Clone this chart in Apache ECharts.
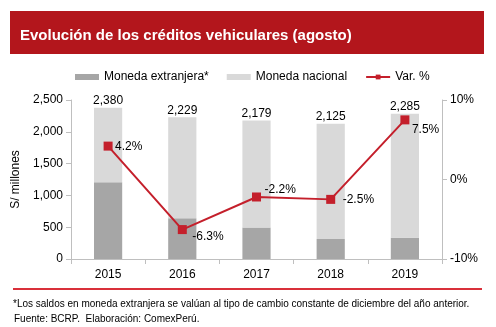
<!DOCTYPE html>
<html><head><meta charset="utf-8">
<script src="https://cdn.jsdelivr.net/npm/echarts@6/dist/echarts.min.js"></script>
<style>html,body{margin:0;padding:0;background:#fff}#c{width:496px;height:327px}</style>
</head><body><div id="c"></div>
<script>
const years = ['2015','2016','2017','2018','2019'];
const totals = [2380, 2229, 2179, 2125, 2285];
const foreign = [1205, 640, 495, 315, 335];
const national = totals.map((t,i)=>t-foreign[i]);
const varPct = [4.2, -6.3, -2.2, -2.5, 7.5];

const FONT = '"Liberation Sans", Arial, sans-serif';
const RED = '#c41f2b';
const labelPos = [[11.5,-0.5],[14.5,5.5],[12.5,-8.5],[16.5,-1.5],[11.5,8.5]];

const chart = echarts.init(document.getElementById('c'), null, {renderer:'canvas'});
chart.setOption({
  animation:false,
  textStyle:{fontFamily:FONT},
  graphic:[
    {type:'rect', shape:{x:10,y:11,width:474,height:43}, style:{fill:'#b3161c'}},
    {type:'text', left:20, top:28, style:{text:'Evolución de los créditos vehiculares (agosto)', fill:'#fff', font:'bold 15px '+FONT}},
    {type:'rect', shape:{x:13,y:288,width:469,height:2}, style:{fill:'#d9303a'}},
    {type:'text', left:13, top:299, style:{text:'*Los saldos en moneda extranjera se valúan al tipo de cambio constante de diciembre del año anterior.', fill:'#000', font:'10px '+FONT}},
    {type:'text', left:14, top:314, style:{text:'Fuente: BCRP.  Elaboración: ComexPerú.', fill:'#000', font:'10px '+FONT}}
  ],
  legend:{
    top:66, left:70, itemGap:18, itemWidth:24, itemHeight:6,
    textStyle:{fontSize:12, color:'#000', fontFamily:FONT},
    data:[
      {name:'Moneda extranjera*', icon:'rect'},
      {name:'Moneda nacional', icon:'rect'},
      {name:'Var. %'}
    ]
  },
  grid:{left:71, right:54, top:100, bottom:68},
  xAxis:{
    type:'category', data:years,
    axisLine:{lineStyle:{color:'#bfbfbf', width:1}},
    axisTick:{show:true, alignWithLabel:false, lineStyle:{color:'#bfbfbf'}},
    axisLabel:{color:'#000', fontSize:12, margin:10, fontFamily:FONT}
  },
  yAxis:[
    {type:'value', min:0, max:2500, interval:500,
     name:'S/ millones', nameLocation:'middle', nameGap:45, nameRotate:90,
     nameTextStyle:{fontSize:12, color:'#000', fontFamily:FONT},
     axisLine:{show:true, lineStyle:{color:'#bfbfbf'}},
     axisTick:{show:true, lineStyle:{color:'#bfbfbf'}},
     splitLine:{show:false},
     axisLabel:{color:'#000', fontSize:12, fontFamily:FONT, formatter:v=>v.toLocaleString('en-US')}
    },
    {type:'value', min:-10, max:10, interval:10, position:'right',
     axisLine:{show:true, lineStyle:{color:'#bfbfbf'}},
     axisTick:{show:true, lineStyle:{color:'#bfbfbf'}},
     splitLine:{show:false},
     axisLabel:{color:'#000', fontSize:12, fontFamily:FONT, formatter:v=>v+'%'}
    }
  ],
  series:[
    {name:'Moneda extranjera*', type:'bar', stack:'t', data:foreign, barWidth:'38%',
     itemStyle:{color:'#a6a6a6'}},
    {name:'Moneda nacional', type:'bar', stack:'t', data:national, barWidth:'38%',
     itemStyle:{color:'#d9d9d9'},
     label:{show:true, position:'top', distance:1, color:'#000', fontSize:12, fontFamily:FONT,
       formatter:p=>totals[p.dataIndex].toLocaleString('en-US')}},
    {name:'Var. %', type:'line', yAxisIndex:1, z:5,
     data:varPct.map((v,i)=>({value:v, label:{position:labelPos[i]}})),
     symbol:'rect', symbolSize:9,
     lineStyle:{color:RED, width:2}, itemStyle:{color:RED},
     label:{show:true, color:'#000', fontSize:12, fontFamily:FONT,
       formatter:p=>p.value.toFixed(1)+'%'}}
  ]
});
</script></body></html>
